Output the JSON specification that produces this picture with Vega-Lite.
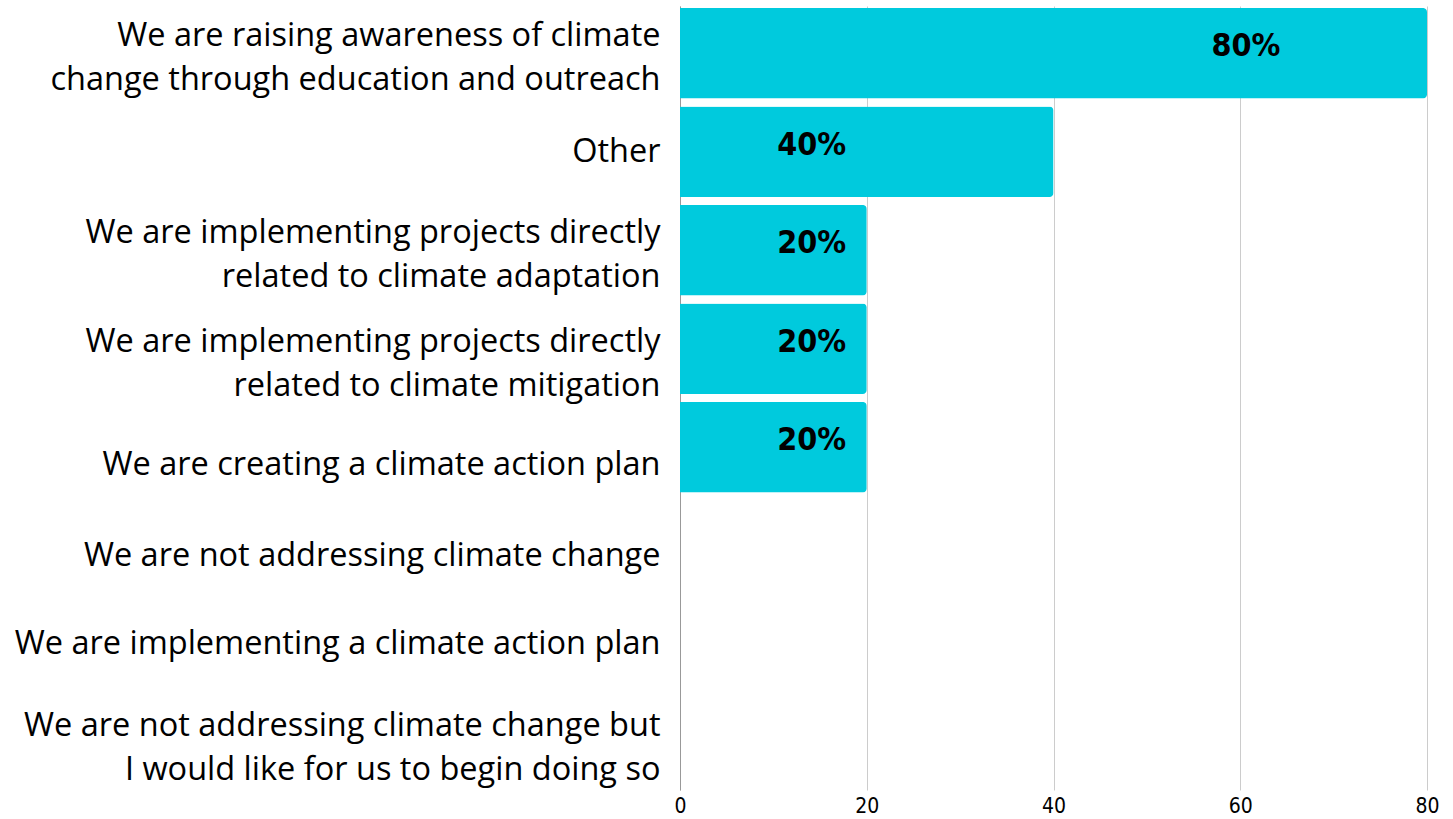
{
  "$schema": "https://vega.github.io/schema/vega-lite/v6.json",
  "width": 747,
  "height": 784,
  "autosize": "none",
  "padding": {"left": 680, "top": 6, "right": 26, "bottom": 29},
  "background": "white",
  "config": {"view": {"stroke": null}},
  "data": {
    "values": [
      {"answer": "We are raising awareness of climate|change through education and outreach", "value": 80},
      {"answer": "Other", "value": 40},
      {"answer": "We are implementing projects directly|related to climate adaptation", "value": 20},
      {"answer": "We are implementing projects directly|related to climate mitigation", "value": 20},
      {"answer": "We are creating a climate action plan", "value": 20},
      {"answer": "We are not addressing climate change", "value": 0},
      {"answer": "We are implementing a climate action plan", "value": 0},
      {"answer": "We are not addressing climate change but|I would like for us to begin doing so", "value": 0}
    ]
  },
  "encoding": {
    "y": {
      "field": "answer",
      "type": "nominal",
      "sort": null,
      "scale": {"paddingInner": 0.08, "paddingOuter": 0.02},
      "axis": {
        "title": null,
        "ticks": false,
        "labelExpr": "split(datum.label, '|')",
        "labelFont": "Open Sans",
        "labelFontSize": 32.5,
        "labelColor": "#000000",
        "labelLineHeight": 44,
        "labelPadding": 20,
        "labelLimit": 700,
        "labelOffset": {
          "condition": [
            {"test": "indexof(datum.value, 'mitigation') >= 0", "value": -7},
            {"test": "indexof(datum.value, '|') >= 0", "value": -17},
            {"test": "datum.value == 'We are creating a climate action plan'", "value": 18},
            {"test": "datum.value == 'We are not addressing climate change'", "value": 10}
          ],
          "value": 0
        },
        "domainColor": "#999999",
        "domainWidth": 1
      }
    }
  },
  "layer": [
    {
      "mark": {"type": "bar", "color": "#00CADD", "cornerRadiusEnd": 4, "strokeWidth": 0},
      "encoding": {
        "x": {
          "field": "value",
          "type": "quantitative",
          "scale": {"domain": [0, 80], "nice": false},
          "axis": {
            "title": null,
            "values": [0, 20, 40, 60, 80],
            "ticks": false,
            "domain": false,
            "grid": true,
            "gridColor": "#cccccc",
            "labelFont": "DejaVu Sans Condensed",
            "labelFontSize": 21,
            "labelColor": "#000000",
            "labelPadding": 5,
            "labelFlush": false
          }
        }
      }
    },
    {
      "transform": [
        {"filter": "datum.value > 0"},
        {"calculate": "datum.value > 50 ? datum.value - 19.4 : 14.1", "as": "labelPos"},
        {"calculate": "datum.value + '%'", "as": "pct"}
      ],
      "mark": {
        "type": "text",
        "font": "DejaVu Sans Condensed",
        "fontWeight": "bold",
        "fontSize": 32,
        "color": "#000000",
        "dy": -7
      },
      "encoding": {
        "x": {"field": "labelPos", "type": "quantitative"},
        "text": {"field": "pct"}
      }
    }
  ]
}
